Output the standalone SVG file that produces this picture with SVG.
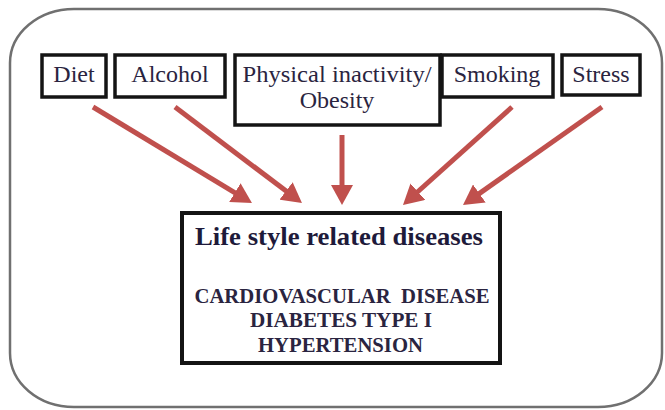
<svg xmlns="http://www.w3.org/2000/svg" width="665" height="410" viewBox="0 0 665 410">
<style>
.box{fill:#fff;stroke:#141414;stroke-width:3.5}
.lbl{font-family:"Liberation Serif","Times New Roman",serif;font-size:24px;fill:#2a2440;text-anchor:middle}
.ttl{font-family:"Liberation Serif","Times New Roman",serif;font-size:26px;font-weight:bold;fill:#1e1a3a;text-anchor:middle}
.cap{font-family:"Liberation Serif","Times New Roman",serif;font-size:20px;font-weight:bold;fill:#2a2440;text-anchor:middle}
.arr{stroke:#c0504d;stroke-width:5;fill:none;marker-end:url(#ah)}
</style>
<defs>
<marker id="ah" markerUnits="userSpaceOnUse" markerWidth="22" markerHeight="22" refX="8" refY="11" orient="auto">
<path d="M0,0 L20,11 L0,22 z" fill="#c0504d"/>
</marker>
</defs>
<rect x="0" y="0" width="665" height="410" fill="#fff"/>
<g id="frame">
<rect x="10" y="9" width="652" height="398" rx="64" ry="54" fill="#fff" stroke="#707070" stroke-width="2.5"/>
</g>
<g id="diet">
<rect class="box" x="42" y="55" width="64" height="42"/>
<text class="lbl" x="74" y="82">Diet</text>
</g>
<g id="alcohol">
<rect class="box" x="115" y="55" width="110" height="42"/>
<text class="lbl" x="170" y="82">Alcohol</text>
</g>
<g id="physical">
<rect class="box" x="235" y="55" width="205" height="70"/>
<text class="lbl" x="337" y="82" textLength="189" lengthAdjust="spacingAndGlyphs">Physical inactivity/</text>
<text class="lbl" x="337" y="108">Obesity</text>
</g>
<g id="smoking">
<rect class="box" x="442" y="55" width="111" height="42"/>
<text class="lbl" x="497" y="82">Smoking</text>
</g>
<g id="stress">
<rect class="box" x="562" y="55" width="78" height="40"/>
<text class="lbl" x="601" y="82">Stress</text>
</g>
<g id="connectors">
<line class="arr" x1="93" y1="107" x2="241.7" y2="196.8"/>
<line class="arr" x1="175" y1="107" x2="292.4" y2="195.8"/>
<line class="arr" x1="342" y1="135" x2="342" y2="193"/>
<line class="arr" x1="512" y1="107" x2="411.9" y2="197"/>
<line class="arr" x1="602" y1="107" x2="472.8" y2="198.1"/>
</g>
<g id="diseases">
<rect x="182" y="213" width="318" height="150" fill="#fff" stroke="#141414" stroke-width="4"/>
<text class="ttl" x="339" y="245" textLength="288" lengthAdjust="spacingAndGlyphs">Life style related diseases</text>
<text class="cap" x="342" y="303" textLength="295" lengthAdjust="spacingAndGlyphs" xml:space="preserve">CARDIOVASCULAR  DISEASE</text>
<text class="cap" x="341" y="327" textLength="182" lengthAdjust="spacingAndGlyphs">DIABETES TYPE I</text>
<text class="cap" x="340.5" y="352" textLength="165" lengthAdjust="spacingAndGlyphs">HYPERTENSION</text>
</g>
</svg>
